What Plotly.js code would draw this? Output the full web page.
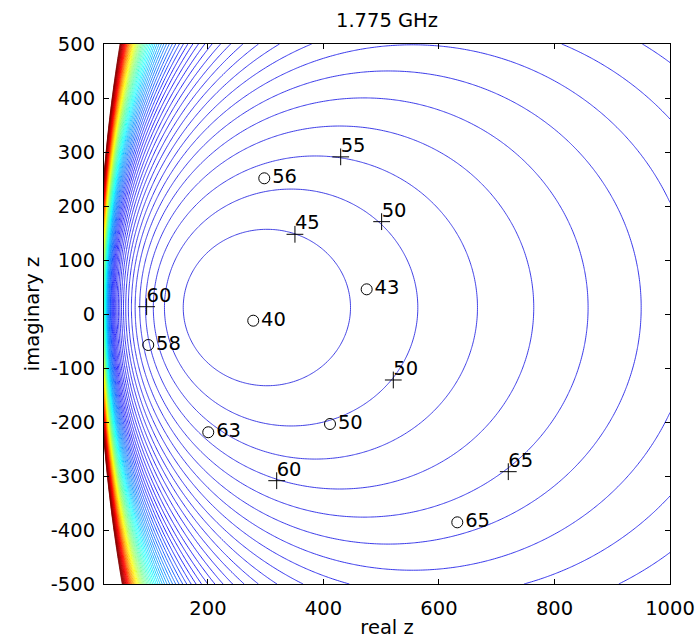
<!DOCTYPE html>
<html>
<head>
<meta charset="utf-8">
<script src="https://cdn.plot.ly/plotly-3.0.1.min.js"></script>
<style>html,body{margin:0;padding:0;background:#fff}#chart{width:697px;height:639px}</style>
</head>
<body>
<div id="chart"></div>
<script>
// ---- contour model (optimum impedance, level spacing) ----
const optimumZ = [265, 12];            // [real, imaginary] of the contour centre
const levelStart = 74;                 // innermost contour level
const levelStep = 84;                  // spacing between contour levels
const levelEnd = 6000;                 // highest drawn contour level (dark red)
const realRange = [20, 1000];
const imagRange = [-500, 500];

// ---- measured points ("+" markers) ----
const plusReal  = [429.8, 350.6, 500.7, 93.8, 520.9, 319.0, 720.0];
const plusImag  = [291.0, 147.6, 171.0, 13.5, -122.2, -308.7, -292.0];
const plusLabel = ['55', '45', '50', '60', '50', '60', '65'];

// ---- measured points ("o" markers) ----
const circReal  = [297.5, 278.4, 474.8, 96.6, 200.5, 411.3, 631.7];
const circImag  = [251.3, -12.4, 45.7, -57.4, -219.0, -203.7, -385.8];
const circLabel = ['56', '40', '43', '58', '63', '50', '65'];

// ---- axis ticks ----
const xTicks = [200, 400, 600, 800, 1000];
const yTicks = [-500, -400, -300, -200, -100, 0, 100, 200, 300, 400, 500];

// grid (finer where the surface is steep); values above the top level are left blank
const gx = [];
for (let v = realRange[0]; v < 100; v += 0.5) gx.push(v);
for (let v = 100; v <= realRange[1]; v += 4) gx.push(v);
const gy = [];
for (let v = imagRange[0]; v <= imagRange[1]; v += 4) gy.push(v);
const cap = levelEnd + levelStep / 2;
const gz = gy.map(y => gx.map(x => Math.min(cap, ((x - optimumZ[0]) ** 2 + (y - optimumZ[1]) ** 2) / x)));

// jet-like line colours, stops placed where the reference changes hue
const lineColors = [[0, '#3030e0'], [0.24, '#1010f8'], [0.38, '#00b0ff'], [0.435, '#00ffff'],
                    [0.544, '#80ff80'], [0.642, '#ffff00'], [0.836, '#ff0000'], [1, '#800000']];
const FONT = 'DejaVu Sans';
const FS = 19.5;

const traces = [
  {
    type: 'contour', x: gx, y: gy, z: gz,
    autocontour: false,
    contours: {coloring: 'lines', start: levelStart, end: levelEnd, size: levelStep},
    colorscale: lineColors, zauto: false, zmin: levelStart, zmax: levelEnd,
    line: {width: 0.9, smoothing: 1},
    showscale: false, hoverinfo: 'skip'
  },
  {
    type: 'scatter', mode: 'markers', x: plusReal, y: plusImag,
    marker: {symbol: 'cross-thin-open', size: 12, color: '#000', line: {color: '#000', width: 1}},
    showlegend: false, cliponaxis: false, hoverinfo: 'skip'
  },
  {
    type: 'scatter', mode: 'text', x: plusReal, y: plusImag, text: plusLabel,
    textposition: 'top right',
    textfont: {family: FONT, size: FS, color: '#000'},
    showlegend: false, cliponaxis: false, hoverinfo: 'skip'
  },
  {
    type: 'scatter', mode: 'markers+text', x: circReal, y: circImag, text: circLabel,
    textposition: 'middle right',
    textfont: {family: FONT, size: FS, color: '#000'},
    marker: {symbol: 'circle-open', size: 11, color: '#000', line: {color: '#000', width: 1}},
    showlegend: false, cliponaxis: false, hoverinfo: 'skip'
  }
];

const axisCommon = {
  showline: true, linecolor: '#000', linewidth: 1, mirror: 'ticks',
  ticks: 'inside', ticklen: 5, tickcolor: '#000', tickwidth: 1,
  showgrid: false, zeroline: false,
  tickfont: {family: FONT, size: FS, color: '#000'}
};

const layout = {
  width: 697, height: 639,
  margin: {l: 104, r: 27, t: 44, b: 55},
  paper_bgcolor: '#fff', plot_bgcolor: '#fff',
  showlegend: false,
  title: {text: '1.775 GHz', font: {family: FONT, size: FS, color: '#000'},
          xref: 'paper', x: 0.5, xanchor: 'center', yref: 'container', y: 0.968, yanchor: 'middle'},
  xaxis: Object.assign({}, axisCommon, {
    range: realRange, tickvals: xTicks, ticktext: xTicks.map(String),
    ticklabelstandoff: 7,
    title: {text: 'real z', font: {family: FONT, size: FS, color: '#000'}, standoff: 2}
  }),
  yaxis: Object.assign({}, axisCommon, {
    range: imagRange, tickvals: yTicks, ticktext: yTicks.map(String),
    ticklabelstandoff: 4,
    title: {text: 'imaginary z', font: {family: FONT, size: FS, color: '#000'}, standoff: 6}
  })
};

Plotly.newPlot('chart', traces, layout, {displayModeBar: false, staticPlot: true});
</script>
</body>
</html>
